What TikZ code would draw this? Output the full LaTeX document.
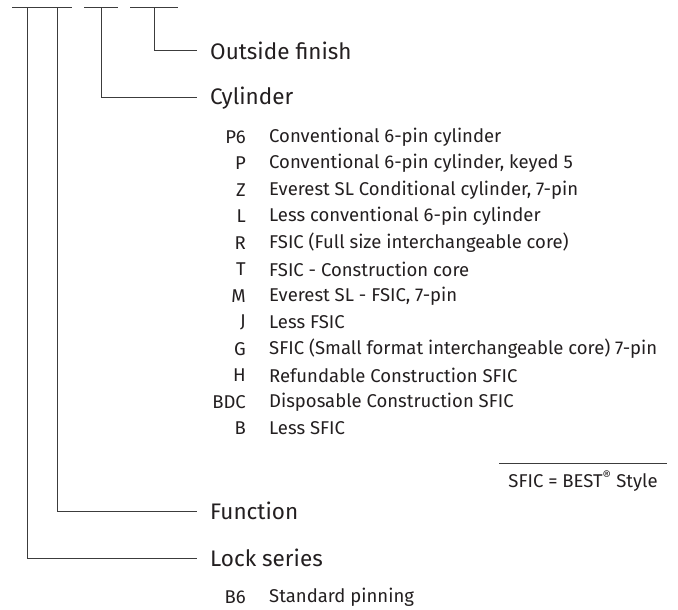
\documentclass[tikz,border=0pt]{standalone}
\usepackage{fontspec}
\setmainfont{Fira Sans}
\usepackage{tikz}
\usetikzlibrary{calc, positioning}
\definecolor{ink}{RGB}{35, 31, 32}
\definecolor{rule}{RGB}{60, 60, 60}

\tikzset{
  leader/.style={draw=rule, line width=1pt},
  part/.style={anchor=west, inner xsep=13pt, inner ysep=0pt, text=ink, font=\fontsize{22.5}{26}\selectfont},
  code/.style={anchor=east, inner sep=0pt, text=ink, font=\fontsize{18.5}{22}\selectfont},
  desc/.style={anchor=west, inner sep=0pt, text=ink, font=\fontsize{18.5}{22}\selectfont}
}

\begin{document}
\begin{tikzpicture}[x=1pt, y=-1pt]
                \useasboundingbox (0,0) rectangle (678,610);

                % Code positions on the top rule
                \coordinate (lsL) at (12,8);   \coordinate (lsR) at (72,8);
                \coordinate (cyL) at (84,8);   \coordinate (cyR) at (118,8);
                \coordinate (ofL) at (130,8);  \coordinate (ofR) at (178,8);
                \coordinate (ls) at (27,8);
                \coordinate (fn) at (57,8);
                \coordinate (cy) at (101,8);
                \coordinate (of) at (154,8);
                \draw[leader] (lsL) -- (lsR);
                \draw[leader] (cyL) -- (cyR);
                \draw[leader] (ofL) -- (ofR);

                % Part names
                \node[part] (outside) at (197,51) {Outside finish};
                \node[part] (cylinder) at (197,98) {Cylinder};
                \node[part] (function) at (197,511) {Function};
                \node[part] (series) at (197,558) {Lock series};

                \draw[leader] (of) |- (outside.west);
                \draw[leader] (cy) |- (cylinder.west);
                \draw[leader] (fn) |- (function.west);
                \draw[leader] (ls) |- (series.west);

                % Cylinder options
                \foreach \c/\d [count=\i from 0] in {
                    P6/{Conventional 6-pin cylinder},
                    P/{Conventional 6-pin cylinder, keyed 5},
                    Z/{Everest SL Conditional cylinder, 7-pin},
                    L/{Less conventional 6-pin cylinder},
                    R/{FSIC (Full size interchangeable core)},
                    T/{FSIC - Construction core},
                    M/{Everest SL - FSIC, 7-pin},
                    J/{Less FSIC},
                    G/{SFIC (Small format interchangeable core) 7-pin},
                    H/{Refundable Construction SFIC},
                    BDC/{Disposable Construction SFIC},
                    B/{Less SFIC}} {
                    \node[code] (code\i) at (246,137+26.5*\i) {\c};
                    \node[desc] (desc\i) at (269,137+26.5*\i) {\d};
                }

                % Footnote
                \node[desc, anchor=center] (note) at (583,481) {SFIC = BEST\textsuperscript{®} Style};
                \coordinate (noteL) at (499,463);
                \coordinate (noteR) at (667,463);
                \draw[draw=rule, line width=0.9pt] (noteL) -- (noteR);

                % Lock series option
                \node[code] (codeB6) at (246,597) {B6};
                \node[desc] (descB6) at (269,597) {Standard pinning};
\end{tikzpicture}
\end{document}
